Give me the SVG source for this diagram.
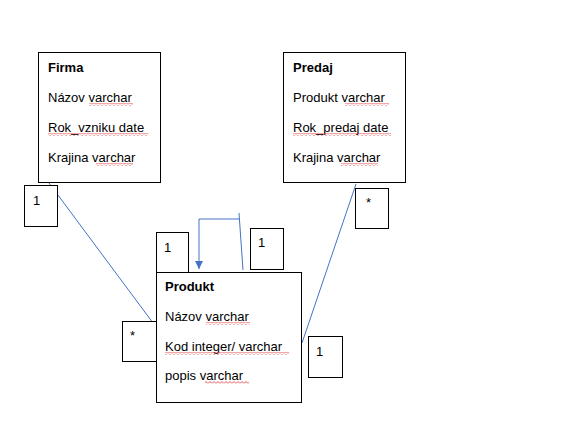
<svg xmlns="http://www.w3.org/2000/svg" width="568" height="432" viewBox="0 0 568 432">
<defs>
<style>
.box{fill:#fff;stroke:#000;stroke-width:1}
.t{font-family:"Liberation Sans",Arial,sans-serif;font-size:13px;fill:#000}
.b{font-weight:bold}
.m{font-family:"Liberation Sans",Arial,sans-serif;font-size:13px;fill:#000}
.ln{fill:none;stroke:#4472C4;stroke-width:1}
.sq{fill:url(#wave)}
</style>
<pattern id="wave" width="4" height="3" patternUnits="userSpaceOnUse">
<polyline points="0,2.5 2,0.5 4,2.5" fill="none" stroke="#e02020" stroke-width="0.8"/>
</pattern>
<marker id="arr" viewBox="0 0 10 10" refX="10" refY="5" markerWidth="8" markerHeight="8" markerUnits="userSpaceOnUse" orient="auto">
<path d="M0,0 L10,5 L0,10 Z" fill="#4472C4"/>
</marker>
</defs>
<rect width="568" height="432" fill="#fff"/>
<g id="connectors">
<line class="ln" x1="49" y1="183" x2="156" y2="327"/>
<line class="ln" x1="356" y1="184" x2="302" y2="343"/>
<polyline class="ln" points="239,213 243,270"/>
<polyline class="ln" points="239,219 199,219 199,269" marker-end="url(#arr)"/>
</g>
<g id="firma">
<rect class="box" x="38.5" y="52.5" width="122" height="130"/>
<text class="t b" x="48" y="72">Firma</text>
<text class="t" x="48" y="102">Názov varchar</text>
<text class="t" x="48" y="132">Rok_vzniku date</text>
<text class="t" x="48" y="162">Krajina varchar</text>
<rect class="sq" x="89" y="103" width="44" height="3"/>
<rect class="sq" x="48" y="133" width="100" height="3"/>
<rect class="sq" x="96" y="163" width="37" height="3"/>
</g>
<g id="predaj">
<rect class="box" x="283.5" y="52.5" width="122" height="130"/>
<text class="t b" x="293" y="72">Predaj</text>
<text class="t" x="293" y="102">Produkt varchar</text>
<text class="t" x="293" y="132">Rok_predaj date</text>
<text class="t" x="293" y="162">Krajina varchar</text>
<rect class="sq" x="345" y="103" width="44" height="3"/>
<rect class="sq" x="293" y="133" width="98" height="3"/>
<rect class="sq" x="341" y="163" width="37" height="3"/>
</g>
<g id="produkt">
<rect class="box" x="156.5" y="272.5" width="145" height="130"/>
<text class="t b" x="165" y="291">Produkt</text>
<text class="t" x="165" y="321">Názov varchar</text>
<text class="t" x="165" y="351">Kod integer/ varchar</text>
<text class="t" x="165" y="380">popis varchar</text>
<rect class="sq" x="206" y="322" width="44" height="3"/>
<rect class="sq" x="165" y="352" width="124" height="3"/>
<rect class="sq" x="205" y="381" width="44" height="3"/>
</g>
<g id="m-firma">
<rect class="box" x="24.5" y="185.5" width="33" height="41"/>
<text class="m" x="33" y="205">1</text>
</g>
<g id="m-predaj">
<rect class="box" x="355.5" y="188.5" width="33" height="40"/>
<text class="m" x="366" y="207">*</text>
</g>
<g id="m-produkt-left">
<rect class="box" x="122.5" y="321.5" width="34" height="40"/>
<text class="m" x="130" y="340">*</text>
</g>
<g id="m-produkt-top">
<rect class="box" x="156.5" y="232.5" width="32" height="40"/>
<text class="m" x="164" y="252">1</text>
</g>
<g id="m-self">
<rect class="box" x="250.5" y="228.5" width="33" height="41"/>
<text class="m" x="258" y="247">1</text>
</g>
<g id="m-produkt-right">
<rect class="box" x="308.5" y="336.5" width="34" height="41"/>
<text class="m" x="316" y="356">1</text>
</g>
</svg>
